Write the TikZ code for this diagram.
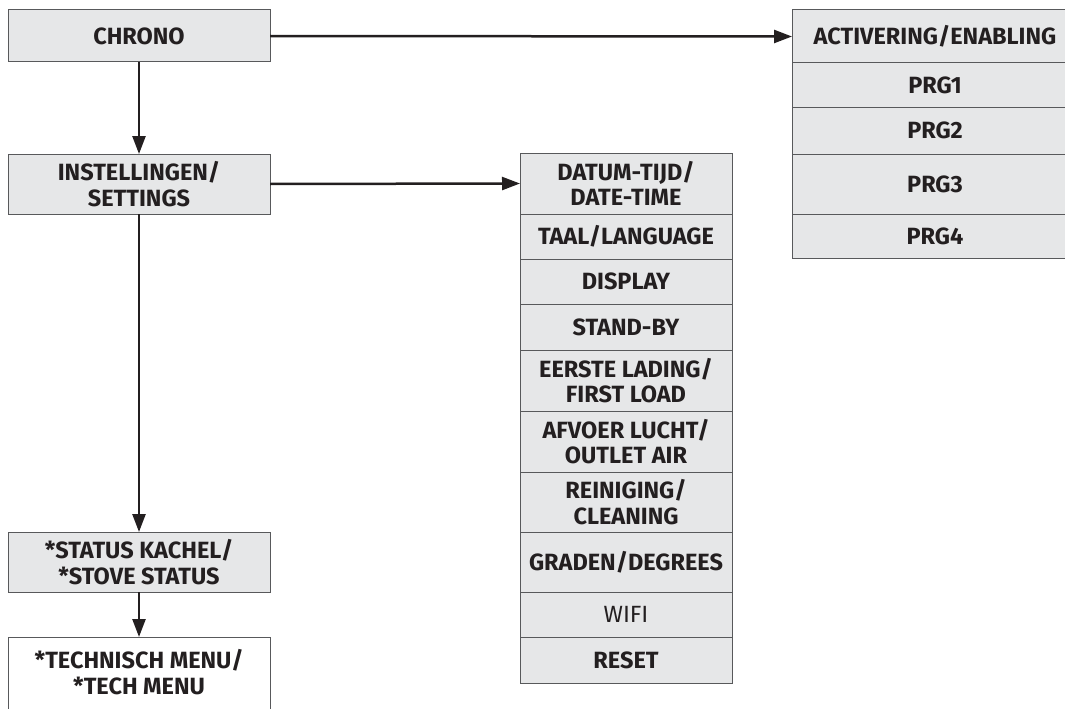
\documentclass[tikz,border=0pt]{standalone}
\usepackage{fontspec}
\setmainfont{Fira Sans}
\usetikzlibrary{arrows.meta}
\definecolor{cellfill}{HTML}{E6E7E8}
\definecolor{cellline}{HTML}{58595B}
\definecolor{ink}{HTML}{231F20}
\begin{document}
\begin{tikzpicture}[x=1pt,y=-1pt,
  cell/.style={draw=cellline, line width=1pt, fill=cellfill, rectangle, inner sep=0pt, outer sep=0pt,
    align=center, font=\fontsize{23.5}{25.5}\selectfont\bfseries, text=ink},
  conn/.style={draw=ink, line width=2.5pt, -{Triangle[length=18pt,width=13pt]}}]
\useasboundingbox (0,0) rectangle (1065,709);
\clip (0,0) rectangle (1065,709);
% left column
\node[cell, minimum width=262, minimum height=52] (chrono) at (139,36) {CHRONO};
\node[cell, minimum width=262, minimum height=60] (inst) at (139,184) {INSTELLINGEN/\\SETTINGS};
\node[cell, minimum width=262, minimum height=60] (status) at (139,562) {*STATUS KACHEL/\\*STOVE STATUS};
\draw[cellline, line width=1pt, fill=white] (8,720) -- (8,637) -- (270,637) -- (270,720);
\node[font=\fontsize{23.5}{25.5}\selectfont\bfseries, text=ink, align=center] (tech) at (139,672) {*TECHNISCH MENU/\\*TECH MENU};
\coordinate (techtop) at (139,637);
% right column (PRG)
\node[cell, minimum width=286, minimum height=53] (act) at (935,36.5) {ACTIVERING/ENABLING};
\node[cell, minimum width=286, minimum height=44] (prg1) at (935,85) {PRG1};
\node[cell, minimum width=286, minimum height=47] (prg2) at (935,130.5) {PRG2};
\node[cell, minimum width=286, minimum height=60] (prg3) at (935,184) {PRG3};
\node[cell, minimum width=286, minimum height=44] (prg4) at (935,236) {PRG4};
% middle column
\node[cell, minimum width=212, minimum height=61] (datum) at (626,183.5) {DATUM-TIJD/\\DATE-TIME};
\node[cell, minimum width=212, minimum height=45] (taal) at (626,236.5) {TAAL/LANGUAGE};
\node[cell, minimum width=212, minimum height=45] (disp) at (626,281.5) {DISPLAY};
\node[cell, minimum width=212, minimum height=46] (stand) at (626,327) {STAND-BY};
\node[cell, minimum width=212, minimum height=61] (eerste) at (626,380.5) {EERSTE LADING/\\FIRST LOAD};
\node[cell, minimum width=212, minimum height=61] (afvoer) at (626,441.5) {AFVOER LUCHT/\\OUTLET AIR};
\node[cell, minimum width=212, minimum height=60] (rein) at (626,502) {REINIGING/\\CLEANING};
\node[cell, minimum width=212, minimum height=60] (graden) at (626,562) {GRADEN/DEGREES};
\node[cell, minimum width=212, minimum height=45, font=\fontsize{23.5}{25.5}\selectfont] (wifi) at (626,614.5) {WIFI};
\node[cell, minimum width=212, minimum height=46] (reset) at (626,660) {RESET};
% connectors
\draw[conn] (chrono.east) -- (act.west);
\draw[conn] (chrono.south) -- (inst.north);
\draw[conn] (inst.east) -- (datum.west);
\draw[conn] (inst.south) -- (status.north);
\draw[conn] (status.south) -- (techtop);
\end{tikzpicture}
\end{document}
